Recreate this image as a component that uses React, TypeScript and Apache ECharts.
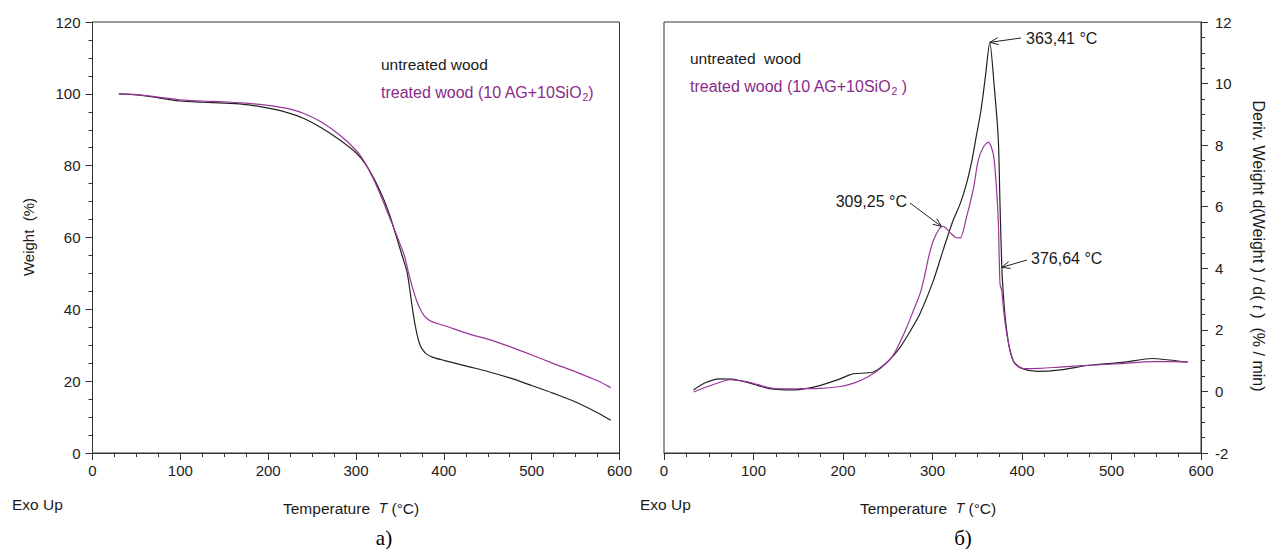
import React, { useEffect, useRef } from "react";
import * as echarts from "echarts";

// ---- TGA (left) ----
const tgaUntreatedT = [30, 50, 75, 100, 125, 150, 175, 200, 220, 240, 260, 280, 300, 310, 320, 330, 335, 340, 345, 350, 355, 358, 361, 364, 367, 370, 373, 376, 380, 387, 400, 429, 450, 475, 500, 525, 550, 575, 590];
const tgaUntreatedW = [100, 99.7, 98.9, 98.0, 97.7, 97.4, 97.0, 96.0, 94.9, 93.2, 90.6, 87.4, 83.6, 80.7, 76.6, 71.5, 68.5, 65, 61, 57, 53, 50.5, 46, 40.6, 36, 32.5, 30, 28.7, 27.6, 26.7, 25.8, 24, 22.7, 20.9, 18.8, 16.6, 14.2, 11.2, 9.1];
const tgaTreatedT = [30, 50, 75, 100, 125, 150, 175, 200, 220, 240, 260, 280, 300, 310, 320, 330, 340, 345, 350, 355, 361, 365, 369, 375, 380, 387, 400, 429, 450, 475, 500, 525, 550, 575, 590];
const tgaTreatedW = [100, 99.8, 99.1, 98.3, 98.0, 97.8, 97.4, 96.8, 96.0, 94.6, 92.2, 88.8, 84.3, 80.9, 76.2, 70.6, 64.5, 61.5, 58.3, 55, 49, 45.5, 42.4, 39.2, 37.6, 36.5, 35.5, 33.1, 31.7, 29.6, 27.3, 24.9, 22.6, 20.1, 18.2];

// ---- DTG (right) ----
const dtgUntreatedT = [33, 46, 62, 76, 92, 105, 118, 131, 144, 160, 174, 196, 211, 234, 251, 264, 276, 286, 301, 312, 323, 331, 338, 344, 349, 354, 359, 364, 369, 373.5, 375.5, 377.5, 379.5, 382, 386, 391, 400, 417, 443, 475, 515, 545, 565, 585];
const dtgUntreatedD = [0.05, 0.28, 0.41, 0.4, 0.3, 0.19, 0.09, 0.06, 0.05, 0.1, 0.19, 0.4, 0.57, 0.63, 1.0, 1.44, 2.0, 2.52, 3.6, 4.6, 5.55, 6.1, 6.75, 7.5, 8.3, 9.1, 10.2, 11.34, 9.9, 8.2, 6.0, 4.0, 3.0, 2.2, 1.4, 0.95, 0.75, 0.65, 0.7, 0.85, 0.95, 1.07, 1.02, 0.95];
const dtgTreatedT = [33, 50, 74, 92, 105, 118, 135, 155, 175, 197, 212, 227, 242, 256, 270, 279, 286, 290, 296, 301, 308, 312, 320, 326, 331, 338, 346, 351, 357, 362.4, 368, 371, 373.5, 375.4, 377.3, 380, 383, 387, 392, 401.5, 420, 442, 475, 510, 545, 570, 585];
const dtgTreatedD = [-0.02, 0.17, 0.38, 0.32, 0.22, 0.12, 0.08, 0.09, 0.1, 0.16, 0.27, 0.46, 0.75, 1.17, 2.0, 2.65, 3.17, 3.6, 4.4, 4.9, 5.3, 5.36, 5.15, 5.0, 4.99, 5.66, 6.63, 7.5, 7.95, 8.1, 7.7, 6.8, 5.55, 3.5, 3.28, 2.5, 1.87, 1.3, 0.9, 0.74, 0.75, 0.79, 0.85, 0.9, 0.97, 0.97, 0.95];

const tgaXTicks = { min: 0, max: 600, interval: 100 };
const tgaYTicks = { min: 0, max: 120, interval: 20 };
const dtgYTicks = { min: -2, max: 12, interval: 2 };

const peakNotes = [
  { text: "363,41 °C", at: [364.2, 11.34], textX: 1026, textY: 38, align: "left", tail: [1021, 38] },
  { text: "309,25 °C", at: [310, 5.36], textX: 907, textY: 201, align: "right", tail: [910, 203] },
  { text: "376,64 °C", at: [377.3, 4.03], textX: 1031, textY: 258, align: "left", tail: [1027, 260] },
];

const BLACK = "#222222";
const PURPLE = "#9a359a";
const PURPLE_TEXT = "#8a2a8a";
const FONT = "Liberation Sans, Arial, sans-serif";

const zip = (a: number[], b: number[]) => a.map((v, i) => [v, b[i]]);

function axisCommon(margin: number) {
  return {
    axisLine: { show: true, onZero: false, lineStyle: { color: "#333", width: 1 } },
    axisTick: { show: true, length: 7, lineStyle: { color: "#333" } },
    minorTick: { show: true, splitNumber: 4, length: 4, lineStyle: { color: "#333" } },
    splitLine: { show: false },
    minorSplitLine: { show: false },
    axisLabel: { color: "#222", fontSize: 15, fontFamily: FONT, margin },
  };
}

export default function App() {
  const ref = useRef<HTMLDivElement>(null);
  useEffect(() => {
    const chart = echarts.init(ref.current!, null, { renderer: "svg" });
    const lineSeries = (xi: number, t: number[], v: number[], color: string, smooth: number) => ({
      type: "line", xAxisIndex: xi, yAxisIndex: xi, data: zip(t, v), showSymbol: false,
      smooth, lineStyle: { color, width: 1.2 },
    });
    const base: any = {
      animation: false,
      backgroundColor: "#fff",
      grid: [
        { left: 92.5, top: 22, width: 527, height: 431, show: true, borderColor: "#333", borderWidth: 1, backgroundColor: "transparent" },
        { left: 664, top: 22, width: 537, height: 431, show: true, borderColor: "#333", borderWidth: 1, backgroundColor: "transparent" },
      ],
      xAxis: [
        { type: "value", gridIndex: 0, ...tgaXTicks, ...axisCommon(10) },
        { type: "value", gridIndex: 1, ...tgaXTicks, ...axisCommon(10) },
      ],
      yAxis: [
        { type: "value", gridIndex: 0, ...tgaYTicks, ...axisCommon(12) },
        { type: "value", gridIndex: 1, position: "right", ...dtgYTicks, ...axisCommon(14) },
      ],
      series: [
        lineSeries(0, tgaUntreatedT, tgaUntreatedW, BLACK, 0.3),
        lineSeries(0, tgaTreatedT, tgaTreatedW, PURPLE, 0.3),
        lineSeries(1, dtgUntreatedT, dtgUntreatedD, BLACK, 0.25),
        lineSeries(1, dtgTreatedT, dtgTreatedD, PURPLE, 0.25),
      ],
    };
    chart.setOption(base);

    const txt = (text: string, x: number, y: number, extra: any = {}) => ({
      type: "text", x, y, silent: true,
      style: { text, fill: "#1a1a1a", font: `15.5px ${FONT}`, align: "left", verticalAlign: "middle", ...extra },
    });

    const sub = (main: string, tail: string, x: number, y: number) => ({
      type: "text", x, y, silent: true,
      style: {
        text: `{a|${main}}{b|2}{a|${tail}}`,
        align: "left", verticalAlign: "middle",
        rich: {
          a: { fill: PURPLE_TEXT, fontSize: 16, fontFamily: FONT, lineHeight: 20, verticalAlign: "middle" },
          b: { fill: PURPLE_TEXT, fontSize: 10.5, fontFamily: FONT, lineHeight: 10, verticalAlign: "bottom" },
        },
      },
    });

    const tempTitle = (x: number) => ({
      type: "text", x, y: 508, silent: true,
      style: {
        text: "{a|Temperature  }{i|T}{a| (°C)}", align: "left", verticalAlign: "middle",
        rich: { a: { fontSize: 15.5, fontFamily: FONT, fill: "#1a1a1a" }, i: { fontSize: 14, fontFamily: FONT, fontStyle: "italic", fill: "#1a1a1a" } },
      },
    });

    const graphics: any[] = [
      txt("untreated wood", 381, 64, { font: `15.5px ${FONT}` }),
      sub("treated wood (10 AG+10SiO", ")", 381, 92),
      txt("untreated  wood", 690, 58, { font: `15.5px ${FONT}` }),
      sub("treated wood (10 AG+10SiO", " )", 690, 86),
      txt("Exo Up", 12, 504),
      txt("Exo Up", 640, 504),
      tempTitle(283),
      tempTitle(860),
      txt("a)", 384, 538, { font: `21px Liberation Serif, Times New Roman, serif`, align: "center", fill: "#000" }),
      txt("б)", 963, 538, { font: `21px Liberation Serif, Times New Roman, serif`, align: "center", fill: "#000" }),
      { ...txt("Weight  (%)", 28, 237, { align: "center", font: `15px ${FONT}` }), rotation: Math.PI / 2 },
      {
        type: "text", x: 1258, y: 246, rotation: -Math.PI / 2, silent: true,
        style: {
          text: "{a|Deriv. Weight d(Weight ) / d( }{i|t}{a| )  (% / min)}", align: "center", verticalAlign: "middle",
          rich: { a: { fontSize: 16, fontFamily: FONT, fill: "#1a1a1a" }, i: { fontSize: 14, fontFamily: FONT, fontStyle: "italic", fill: "#1a1a1a" } },
        },
      },
    ];

    peakNotes.forEach((n) => {
      const tip = chart.convertToPixel({ gridIndex: 1 }, n.at) as number[];
      const [tx, ty] = n.tail;
      const ang = Math.atan2(ty - tip[1], tx - tip[0]);
      const L = 9, w = 0.4;
      graphics.push({ type: "line", silent: true, shape: { x1: tx, y1: ty, x2: tip[0], y2: tip[1] }, style: { stroke: "#222", lineWidth: 1 } });
      graphics.push({
        type: "polyline", silent: true,
        shape: { points: [[tip[0] + L * Math.cos(ang + w), tip[1] + L * Math.sin(ang + w)], [tip[0], tip[1]], [tip[0] + L * Math.cos(ang - w), tip[1] + L * Math.sin(ang - w)]] },
        style: { stroke: "#222", lineWidth: 1, fill: "none" },
      });
      graphics.push(txt(n.text, n.textX, n.textY, { align: n.align, font: `16px ${FONT}` }));
    });

    chart.setOption({ graphic: graphics });
    return () => chart.dispose();
  }, []);
  return <div ref={ref} style={{ position: "fixed", left: 0, top: 0, width: 1269, height: 549, background: "#fff" }} />;
}
